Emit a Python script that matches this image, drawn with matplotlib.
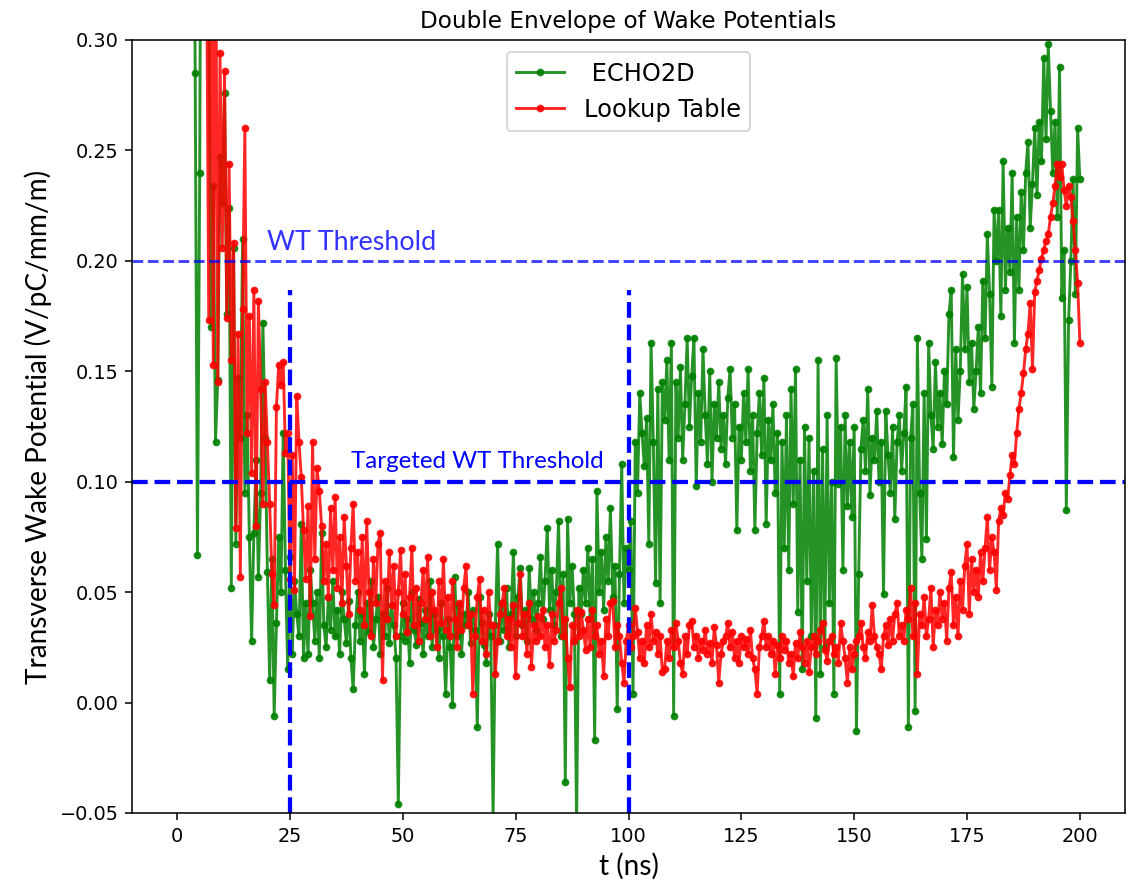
import numpy as np
import matplotlib
matplotlib.use('Agg')
import matplotlib.pyplot as plt

# sample times (ns), every 0.5 ns from 0 to 200
t = np.arange(0, 200.5, 0.5)

# transverse wake envelopes, in units of 1e-3 V/pC/mm/m (one row = 10 ns)
echo2d = [
    2600, 2100, 1700, 1400, 1100, 850, 640, 460, 285, 67, 240, 520, 430, 380, 330, 170, 234, 118, 146, 247,
    226, 276, 176, 224, 52, 206, 72, 147, 120, 210, 95, 130, 75, 28, 77, 110, 57, 95, 172, 120,
    59, 10, 65, -6, 36, 75, 50, 122, 60, 15, 66, 22, 55, 40, 30, 81, 20, 45, 22, 60,
    45, 28, 50, 20, 77, 35, 25, 48, 33, 55, 30, 42, 22, 50, 38, 27, 46, 20, 6, 35,
    50, 28, 40, 13, 45, 32, 55, 25, 38, 48, 22, 40, 30, 52, 27, 44, 35, 20, -46, 30,
    45, 28, 38, 18, 50, 33, 26, 47, 36, 22, 42, 30, 55, 25, 40, 33, 20, 45, 30, 4,
    38, 25, -1, 57, 30, 44, 22, 40, 35, 50, 27, 42, 33, -11, 48, 36, 26, 18, 40, 30,
    -52, 35, 72, 28, 45, 33, 52, 25, 40, 68, 30, 48, 61, 35, 42, 28, 61, 38, 50, 33,
    45, 66, 38, 55, 79, 42, 60, 35, 50, 82, 30, 58, -36, 83, 45, 62, 40, -55, 52, 40,
    60, 45, 70, 38, 65, -17, 96, 50, 68, 42, 75, 55, 88, 48, 62, -3, 58, 108, 45, 70,
    60, 82, 4, 118, 95, 140, 122, 107, 129, 72, 163, 118, 54, 142, 45, 145, 128, 155, 110, 163,
    -6, 145, 120, 152, 110, 135, 165, 125, 148, 165, 98, 140, 118, 160, 130, 108, 150, 100, 135, 120,
    145, 115, 130, 108, 138, 151, 120, 135, 78, 125, 110, 140, 118, 151, 105, 130, 78, 122, 140, 112,
    147, 81, 128, 110, 135, 95, 122, 4, 118, 70, 130, 60, 142, 90, 151, 41, 110, 15, 125, 55,
    120, 30, 105, -7, 155, 13, 115, 25, 130, 45, 100, 4, 156, 99, 125, 60, 130, 89, 118, 84,
    125, -13, 58, 115, 128, 105, 142, 94, 120, 110, 132, 100, 118, 49, 132, 112, 95, 125, 83, 118,
    130, 105, 122, 143, -11, 120, 135, -4, 165, 95, 65, 140, 74, 163, 130, 115, 154, 125, 140, 117,
    150, 135, 176, 187, 111, 160, 128, 150, 194, 160, 188, 145, 163, 133, 150, 170, 140, 191, 165, 212,
    185, 143, 223, 200, 223, 175, 245, 187, 215, 195, 240, 163, 220, 187, 231, 205, 240, 254, 215, 235,
    260, 230, 263, 245, 292, 255, 298, 268, 240, 263, 220, 288, 183, 205, 87, 173, 200, 237, 185, 260,
    237,
]

lookup = [
    3000, 2500, 2000, 1600, 1300, 1050, 850, 700, 600, 520, 460, 420, 380, 350, 173, 420, 153, 380, 145, 294,
    206, 286, 174, 244, 155, 208, 79, 167, 57, 178, 260, 122, 175, 104, 187, 80, 182, 142, 90, 145,
    118, 90, 58, 44, 134, 153, 144, 154, 113, 122, 56, 112, 51, 139, 118, 102, 78, 56, 89, 39,
    118, 65, 106, 96, 80, 55, 72, 48, 88, 60, 93, 52, 75, 45, 84, 62, 40, 70, 90, 55,
    68, 42, 75, 35, 82, 50, 30, 65, 45, 72, 77, 10, 55, 38, 68, 44, 62, 30, 50, 69,
    40, 58, 32, 48, 70, 35, 52, 28, 45, 60, 38, 66, 30, 50, 42, 25, 55, 36, 65, 33,
    48, 30, 55, 38, 25, 45, 33, 52, 62, 35, 40, 4, 30, 48, 56, 28, 42, 22, 50, 35,
    35, 13, 28, 40, 45, 52, 30, 38, 25, 44, 12, 36, 58, 30, 40, 22, 45, 16, 35, 28,
    39, 30, 42, 25, 35, 17, 40, 28, 33, 45, 52, 30, 38, 20, 7, 35, 28, 42, 30, 41,
    33, 24, 38, 25, 42, 30, 35, 22, 28, 12, 38, 30, 45, 46, 25, 35, 30, 18, 9, 28,
    35, 25, 30, 43, 32, 20, 28, 18, 35, 25, 40, 28, 32, 22, 30, 14, 15, 28, 20, 33,
    25, 36, 28, 18, 13, 30, 22, 35, 37, 25, 30, 20, 28, 24, 33, 22, 27, 18, 34, 26,
    9, 22, 28, 30, 36, 25, 32, 20, 28, 18, 30, 25, 29, 22, 33, 20, 15, 4, 25, 30,
    37, 25, 30, 22, 28, 13, 26, 20, 30, 24, 28, 18, 22, 12, 27, 20, 32, 25, 18, 28,
    14, 25, 30, 22, 28, 33, 36, 24, 19, 28, 30, 22, 25, 18, 36, 28, 20, 9, 25, 15,
    22, 28, 30, 36, 25, 20, 32, 28, 44, 30, 25, 22, 15, 30, 35, 26, 38, 28, 40, 45,
    30, 35, 28, 42, 38, 52, 30, 45, 13, 40, 35, 48, 30, 38, 52, 25, 42, 35, 50, 38,
    45, 28, 52, 59, 35, 48, 30, 55, 42, 62, 72, 40, 65, 50, 60, 48, 68, 55, 70, 84,
    60, 75, 68, 51, 82, 88, 85, 95, 92, 103, 112, 108, 122, 133, 140, 149, 160, 167, 181, 151,
    186, 191, 196, 201, 205, 209, 212, 220, 226, 234, 244, 238, 244, 232, 225, 234, 229, 218, 205, 190,
    163,
]

wt_threshold = 0.20
targeted_threshold = 0.10
window = [25, 100]

w_echo = np.array(echo2d) * 1e-3
w_lut = np.array(lookup) * 1e-3

label_font = ['Lato', 'DejaVu Sans']

fig = plt.figure(figsize=(1132 / 139, 882 / 139), dpi=139)
ax = fig.add_axes([132 / 1132, 69 / 882, 993 / 1132, 773 / 882])

ax.plot(t, w_echo, '.-', color='g', alpha=0.85, label=' ECHO2D')
ax.plot(t, w_lut, '.-', color='r', alpha=0.85, label='Lookup Table')

ax.axhline(wt_threshold, color='b', ls='--', lw=1.5, alpha=0.75)
ax.axhline(targeted_threshold, color='b', ls='--', lw=2.2)
ax.vlines(window, -0.05, 0.187, colors='b', linestyles='--', lw=2.2)

ax.text(20, 0.205, 'WT Threshold', color='b', alpha=0.8, fontsize=14, family=label_font)
ax.text(38.5, 0.106, 'Targeted WT Threshold', color='b', fontsize=12.5, family=label_font)

ax.set_xlim(-10, 210)
ax.set_ylim(-0.05, 0.30)
ax.set_title('Double Envelope of Wake Potentials')
ax.set_xlabel('t (ns)', fontsize=14.5, family=label_font)
ax.set_ylabel('Transverse Wake Potential (V/pC/mm/m)', fontsize=14.5, family=label_font)
ax.legend(loc='upper center', fontsize=12.5)

fig.savefig('out.png', dpi=139)
